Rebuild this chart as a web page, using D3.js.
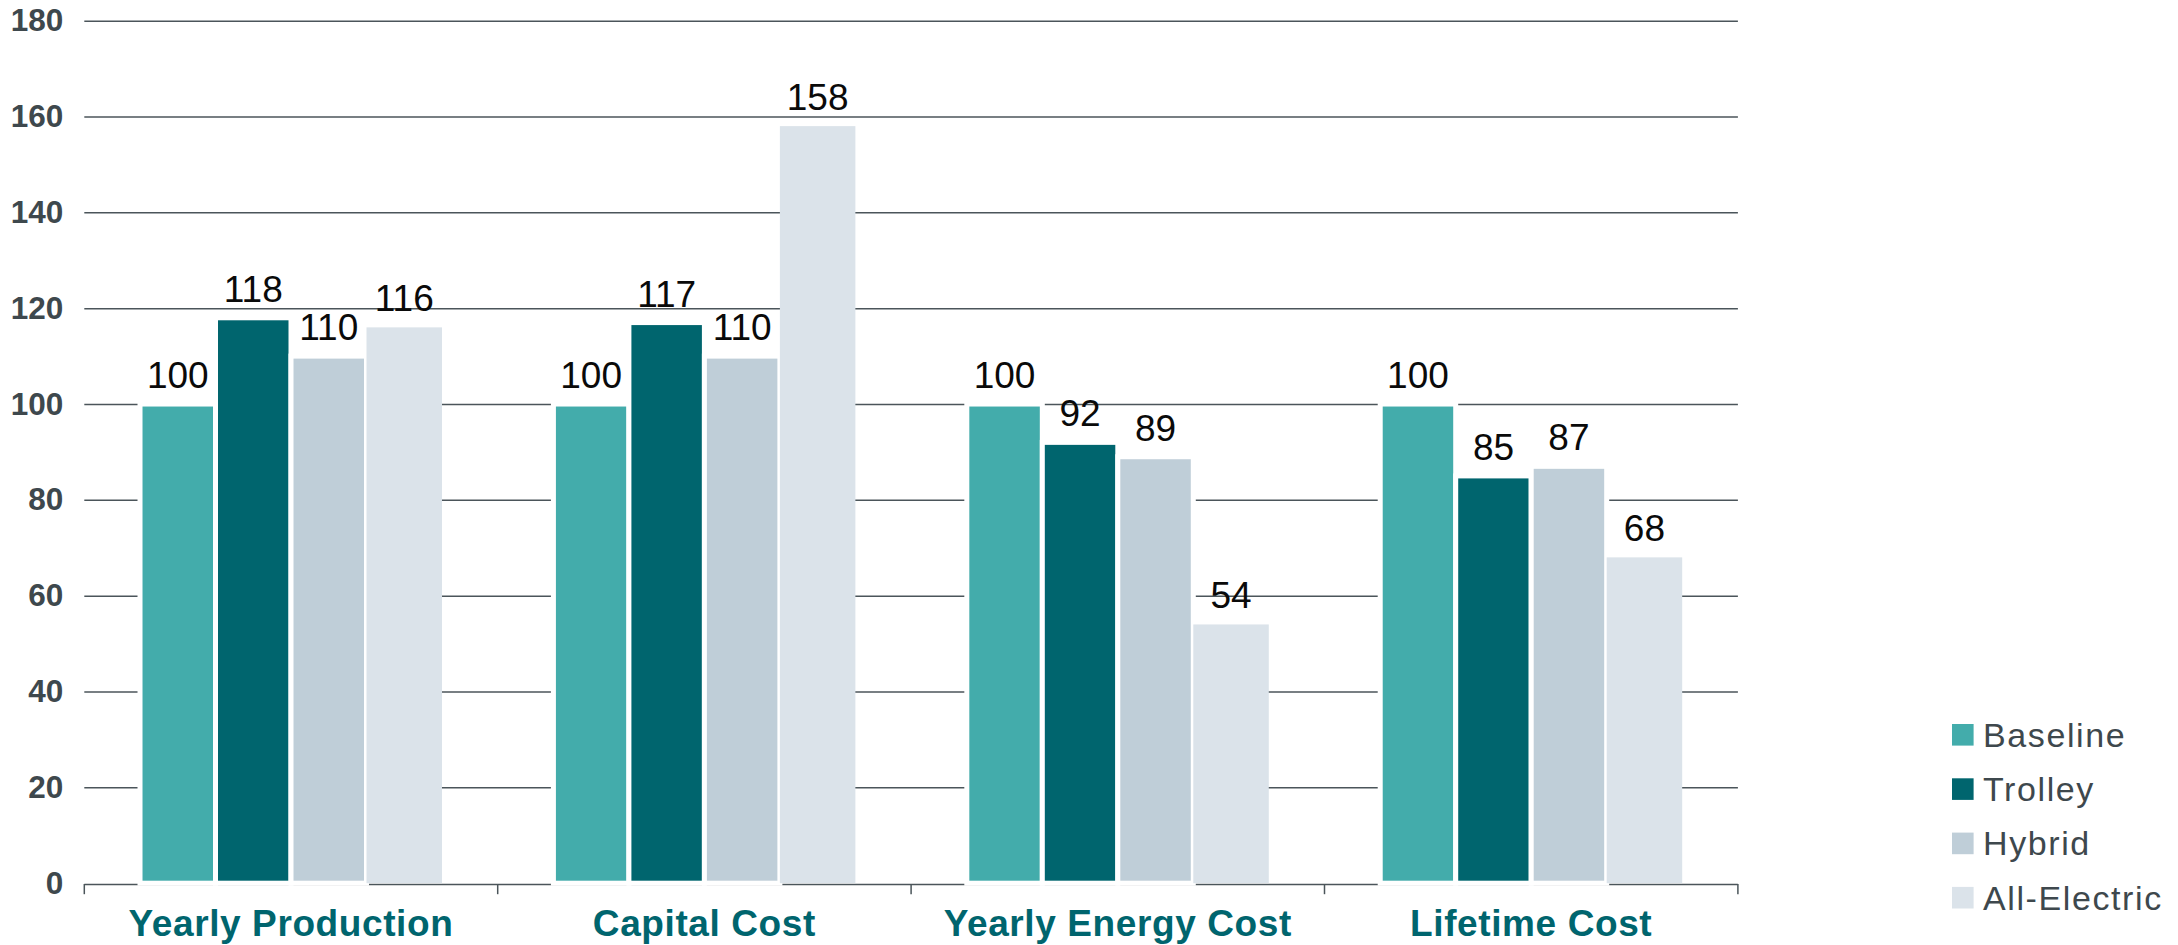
<!DOCTYPE html>
<html>
<head>
<meta charset="utf-8">
<script src="https://cdn.jsdelivr.net/npm/d3@7"></script>
<style>
  html, body { margin: 0; padding: 0; background: #ffffff; }
  svg { display: block; }
</style>
</head>
<body>
<svg id="chart" width="2178" height="945"></svg>
<script>
// Indexed comparison of haulage options (Baseline = 100)
const categories = ["Yearly Production", "Capital Cost", "Yearly Energy Cost", "Lifetime Cost"];
const series = ["Baseline", "Trolley", "Hybrid", "All-Electric"];
const baselineValues = [100, 100, 100, 100];
const trolleyValues = [118, 117, 92, 85];
const hybridValues = [110, 110, 89, 87];
const allElectricValues = [116, 158, 54, 68];
const yTicks = [0, 20, 40, 60, 80, 100, 120, 140, 160, 180];

const seriesValues = [baselineValues, trolleyValues, hybridValues, allElectricValues];
const colors = ["#43acab", "#00656e", "#bfced8", "#dbe3ea"];
const strokeWidths = [5, 5, 5, 0];

const rows = categories.map((c, i) => ({
  category: c,
  bars: series.map((s, j) => ({ series: s, value: seriesValues[j][i], idx: j }))
}));

const svg = d3.select("#chart");
const plot = { left: 84.3, right: 1737.9, top: 20.7, bottom: 883.2 };

const x0 = d3.scaleBand().domain(categories).range([plot.left, plot.right]).padding(0);
const x1 = d3.scaleBand().domain(series).range([0, x0.bandwidth()]).paddingInner(0).paddingOuter(0.738);
const y = d3.scaleLinear().domain([0, 180]).range([plot.bottom, plot.top]);

const gridColor = "#4b555a";
const textGray = "#3e484d";

// value axis: labels + horizontal gridlines
const yAxis = svg.append("g")
  .attr("transform", `translate(${plot.left},0)`)
  .call(d3.axisLeft(y).tickValues(yTicks).tickSize(-(plot.right - plot.left)).tickPadding(21));
yAxis.select(".domain").remove();
yAxis.selectAll(".tick line")
  .attr("stroke", gridColor)
  .attr("stroke-width", 1.5)
  .attr("transform", d => d === 0 ? "translate(0,0.8)" : null);
yAxis.selectAll(".tick text")
  .attr("fill", textGray)
  .style("font-family", "'Liberation Sans', Arial, sans-serif")
  .style("font-weight", "bold")
  .style("font-size", "31.5px");

// category boundary ticks below the baseline
const boundaries = categories.map(c => x0(c)).concat([x0(categories[categories.length - 1]) + x0.bandwidth()]);
svg.append("g").selectAll("line")
  .data(boundaries)
  .join("line")
  .attr("x1", d => d).attr("x2", d => d)
  .attr("y1", y(0) + 0.8).attr("y2", y(0) + 11)
  .attr("stroke", gridColor)
  .attr("stroke-width", 1.5);

// bars
const groups = svg.append("g").selectAll("g")
  .data(rows)
  .join("g")
  .attr("transform", d => `translate(${x0(d.category)},0)`);

groups.selectAll("rect")
  .data(d => d.bars)
  .join("rect")
  .attr("x", d => x1(d.series))
  .attr("y", d => y(d.value))
  .attr("width", x1.bandwidth())
  .attr("height", d => y(0) - y(d.value))
  .attr("fill", d => colors[d.idx])
  .attr("stroke", d => strokeWidths[d.idx] ? "#ffffff" : "none")
  .attr("stroke-width", d => strokeWidths[d.idx]);

// value labels
groups.selectAll("text")
  .data(d => d.bars)
  .join("text")
  .attr("x", d => x1(d.series) + x1.bandwidth() / 2)
  .attr("y", d => y(d.value) - 16)
  .attr("text-anchor", "middle")
  .attr("fill", "#0a0a0a")
  .style("font-family", "'Liberation Sans', Arial, sans-serif")
  .style("font-size", "37px")
  .text(d => d.value);

// category labels
svg.append("g").selectAll("text")
  .data(categories)
  .join("text")
  .attr("x", d => x0(d) + x0.bandwidth() / 2)
  .attr("y", 936)
  .attr("text-anchor", "middle")
  .attr("fill", "#00656e")
  .style("font-family", "'Liberation Sans', Arial, sans-serif")
  .style("font-weight", "bold")
  .style("font-size", "37px")
  .style("letter-spacing", "0.6px")
  .text(d => d);

// legend
const legend = svg.append("g").attr("transform", "translate(1952,724)");
const item = legend.selectAll("g")
  .data(series)
  .join("g")
  .attr("transform", (d, i) => `translate(0,${i * 54.3})`);
item.append("rect")
  .attr("width", 21.6).attr("height", 21.6)
  .attr("fill", (d, i) => colors[i]);
item.append("text")
  .attr("x", 31)
  .attr("y", 22.6)
  .attr("fill", textGray)
  .style("font-family", "'Liberation Sans', Arial, sans-serif")
  .style("font-size", "34px")
  .style("letter-spacing", "1.6px")
  .text(d => d);
</script>
</body>
</html>
